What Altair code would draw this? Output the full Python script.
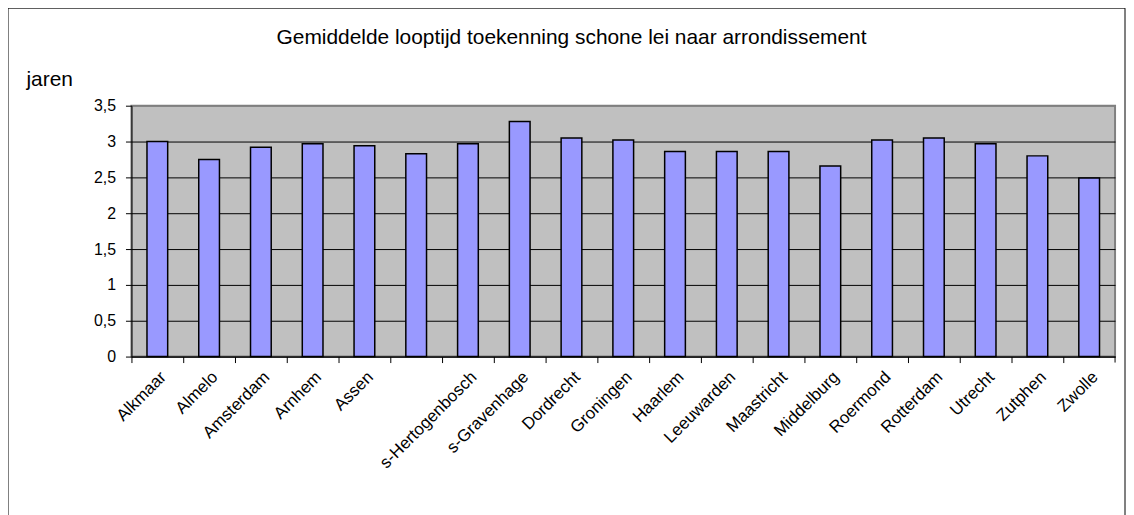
import altair as alt
import pandas as pd

districts = ["Alkmaar", "Almelo", "Amsterdam", "Arnhem", "Assen", " ",
             "s-Hertogenbosch", "s-Gravenhage", "Dordrecht", "Groningen",
             "Haarlem", "Leeuwarden", "Maastricht", "Middelburg", "Roermond",
             "Rotterdam", "Utrecht", "Zutphen", "Zwolle"]
years = [3.00, 2.75, 2.92, 2.97, 2.94, 2.83, 2.97, 3.28, 3.05, 3.02,
         2.86, 2.86, 2.86, 2.66, 3.02, 3.05, 2.97, 2.80, 2.49]
y_ticks = [0, 0.5, 1, 1.5, 2, 2.5, 3, 3.5]

title_text = "Gemiddelde looptijd toekenning schone lei naar arrondissement"
y_title = "jaren"

df = pd.DataFrame({"district": districts, "jaren": years})

FONT = "Arial, Liberation Sans, sans-serif"
W, H = 988, 252

bars = alt.Chart(df).mark_bar(
    color="#9999FF", stroke="black", strokeWidth=1.5
).encode(
    x=alt.X("district:N", sort=districts, title=None,
            scale=alt.Scale(paddingInner=0.6, paddingOuter=0.3),
            axis=alt.Axis(labelAngle=-45, tickOffset=-26, labelOffset=26,
                          labelFontSize=17, labelFont=FONT, labelColor="black",
                          labelPadding=6, tickSize=6, tickColor="black",
                          domainColor="black", domainWidth=1, grid=False,
                          labelOverlap=False)),
    y=alt.Y("jaren:Q", scale=alt.Scale(domain=[0, 3.5], nice=False),
            axis=alt.Axis(values=y_ticks, title=y_title, titleAngle=0,
                          titleX=-106, titleY=-20, titleAlign="left",
                          titleBaseline="alphabetic", titleFontSize=21,
                          titleFontWeight="normal", titleFont=FONT,
                          titleColor="black",
                          labelExpr="replace(toString(datum.value), '.', ',')",
                          labelFontSize=16, labelFont=FONT, labelColor="black",
                          labelPadding=10, tickSize=6, tickColor="black",
                          domainColor="black", grid=True,
                          gridColor=alt.condition("datum.value == 3.5",
                                                  alt.value("#808080"),
                                                  alt.value("black")),
                          gridOpacity=1, gridWidth=1)),
)

title = alt.Chart(alt.Data(values=[{"a": 1}])).mark_text(
    fontSize=21, font=FONT, color="black", align="center",
    baseline="alphabetic"
).encode(
    x=alt.value(442), y=alt.value(-62), text=alt.value(title_text)
)

frame = alt.Chart(alt.Data(values=[{"a": 1}])).mark_rect(
    filled=False, stroke="black", strokeWidth=1
).encode(
    x=alt.value(-124), x2=alt.value(998), y=alt.value(-98), y2=alt.value(520)
)

end_tick = alt.Chart(alt.Data(values=[{"a": 1}])).mark_rule(
    color="black", strokeWidth=1
).encode(
    x=alt.value(W), y=alt.value(H), y2=alt.value(H + 6)
)

chart = alt.layer(bars, end_tick, title, frame).properties(
    width=W, height=H,
    background="white",
    autosize=alt.AutoSizeParams(type="none"),
    padding={"left": 124, "top": 97, "right": 11, "bottom": 160},
).configure_view(
    fill="#C0C0C0", stroke="#808080", strokeWidth=2
)

chart.save("out.html", embed_options={"renderer": "svg", "actions": False})
